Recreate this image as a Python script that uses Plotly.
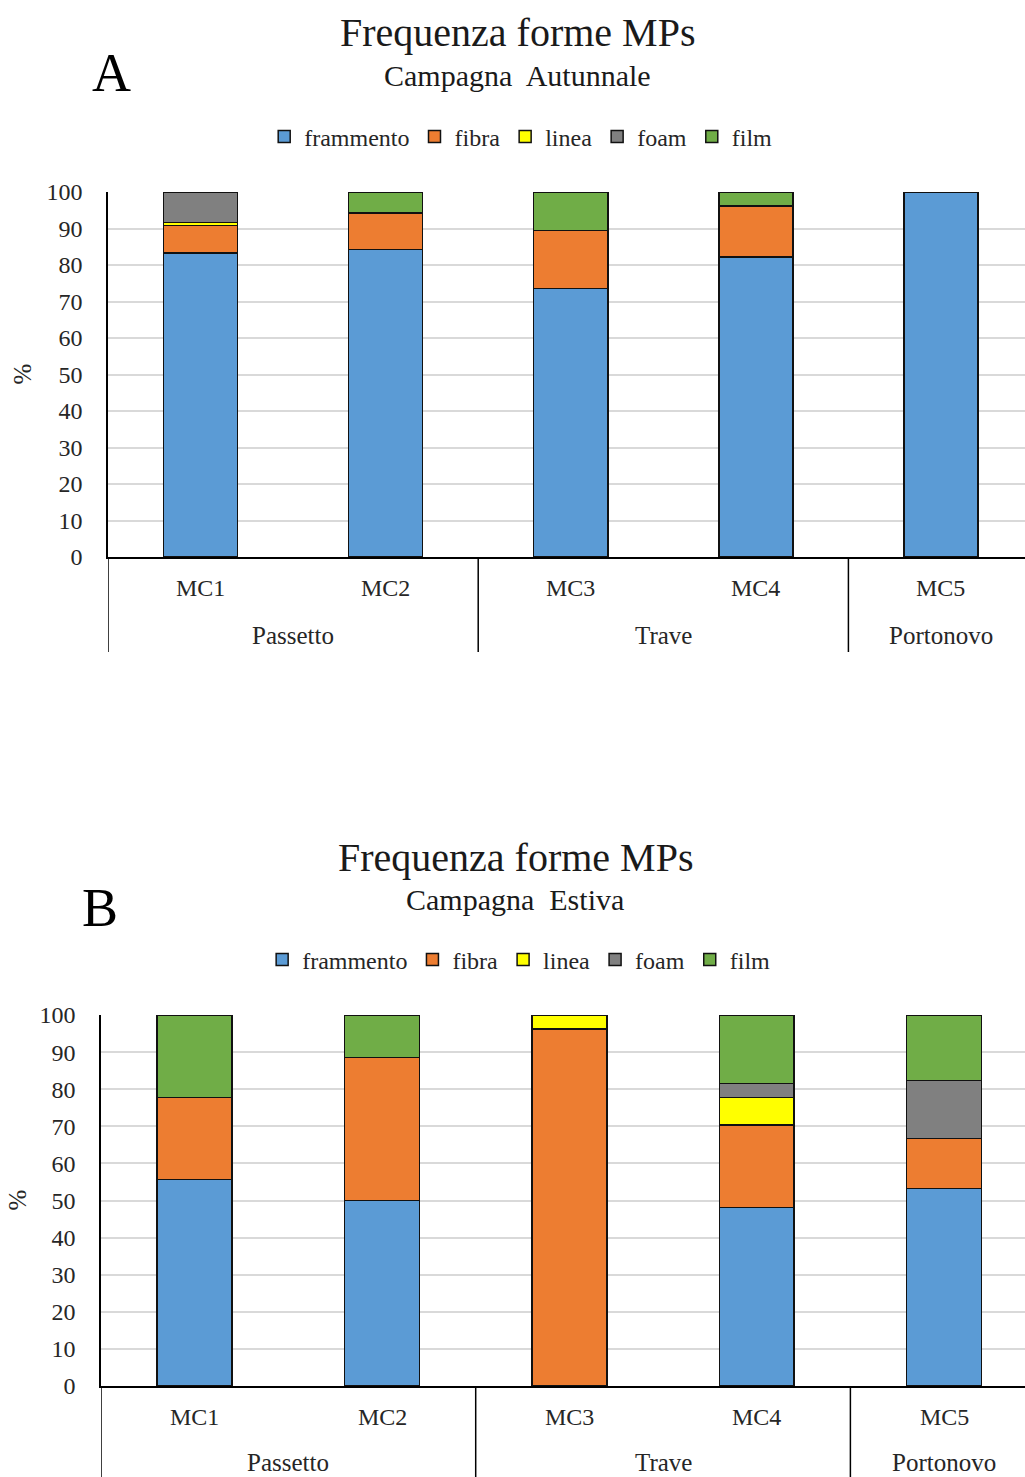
import plotly.graph_objects as go

W, H = 1025, 1477
FONT = "Liberation Serif"

categories = ["MC1", "MC2", "MC3", "MC4", "MC5"]
groups = ["Passetto", "Trave", "Portonovo"]
group_centers = [0.5, 2.5, 4.0]
group_dividers = [-0.5, 1.5, 3.5]
series_names = ["frammento", "fibra", "linea", "foam", "film"]
series_colors = ["#5B9BD5", "#ED7D31", "#FFFF00", "#808080", "#70AD47"]

# Campagna Autunnale (%)
aut_frammento = [83.3, 84.2, 73.5, 82.2, 100.0]
aut_fibra = [7.5, 10.0, 15.9, 13.9, 0.0]
aut_linea = [0.8, 0.0, 0.0, 0.0, 0.0]
aut_foam = [8.4, 0.0, 0.0, 0.0, 0.0]
aut_film = [0.0, 5.8, 10.6, 3.9, 0.0]

# Campagna Estiva (%)
est_frammento = [55.6, 50.0, 0.0, 48.1, 53.3]
est_fibra = [22.2, 38.5, 96.2, 22.3, 13.4]
est_linea = [0.0, 0.0, 3.8, 7.4, 0.0]
est_foam = [0.0, 0.0, 0.0, 3.7, 15.7]
est_film = [22.2, 11.5, 0.0, 18.5, 17.6]

y_ticks = list(range(0, 101, 10))


def py(px):
    """Convert a pixel row (from the top) to paper y."""
    return 1 - px / H


def px_x(px):
    return px / W


# The category axis runs past the right edge of the figure, so the
# visible x range stops short of the last category boundary.
panels = [
    dict(series=[aut_frammento, aut_fibra, aut_linea, aut_foam, aut_film],
         xaxis="x", yaxis="y", legend="legend", x_end=4.454,
         left=108, top=192, bottom=557, sub="Campagna  Autunnale", letter="A",
         title_y=33, sub_y=75, letter_x=111, letter_y=73, legend_y=137,
         mc_y=588, grp_y=635, div_end=652, pct_x=22, title_x=517),
    dict(series=[est_frammento, est_fibra, est_linea, est_foam, est_film],
         xaxis="x2", yaxis="y2", legend="legend2", x_end=4.432,
         left=101, top=1015, bottom=1386, sub="Campagna  Estiva", letter="B",
         title_y=857, sub_y=899, letter_x=100, letter_y=908, legend_y=960,
         mc_y=1417, grp_y=1462, div_end=1477, pct_x=17, title_x=515),
]

fig = go.Figure()
annotations = []
shapes = []

for p in panels:
    for name, color, vals in zip(series_names, series_colors, p["series"]):
        fig.add_trace(go.Bar(
            x=categories, y=vals, name=name, xaxis=p["xaxis"], yaxis=p["yaxis"],
            legend=p["legend"],
            marker=dict(color=color, line=dict(color="#111111", width=1.5)),
        ))
    xref = p["xaxis"]
    # category labels
    for i, c in enumerate(categories):
        annotations.append(dict(x=i, y=py(p["mc_y"]), xref=xref, yref="paper",
                                text=c, showarrow=False, xanchor="center", yanchor="middle",
                                font=dict(family=FONT, size=24, color="#262626")))
    # group labels
    for g, gc in zip(groups, group_centers):
        annotations.append(dict(x=gc, y=py(p["grp_y"]), xref=xref, yref="paper",
                                text=g, showarrow=False, xanchor="center", yanchor="middle",
                                font=dict(family=FONT, size=25, color="#262626")))
    # group dividers under the axis
    for d in group_dividers:
        shapes.append(dict(type="line", xref=xref, yref="paper",
                           x0=d, x1=d, y0=py(p["bottom"]), y1=py(p["div_end"]),
                           line=dict(color="#000000", width=1.5)))
    # titles and panel letter
    annotations.append(dict(x=px_x(p["title_x"]), y=py(p["title_y"]), xref="paper", yref="paper",
                            text="Frequenza forme MPs", showarrow=False,
                            xanchor="center", yanchor="middle",
                            font=dict(family=FONT, size=40, color="#1a1a1a")))
    annotations.append(dict(x=px_x(p["title_x"]), y=py(p["sub_y"]), xref="paper", yref="paper",
                            text=p["sub"], showarrow=False,
                            xanchor="center", yanchor="middle",
                            font=dict(family=FONT, size=30, color="#1a1a1a")))
    annotations.append(dict(x=px_x(p["letter_x"]), y=py(p["letter_y"]), xref="paper", yref="paper",
                            text=p["letter"], showarrow=False,
                            xanchor="center", yanchor="middle",
                            font=dict(family=FONT, size=54, color="#000000")))
    annotations.append(dict(x=px_x(p["pct_x"]), y=py((p["top"] + p["bottom"]) / 2),
                            xref="paper", yref="paper", text="%", textangle=-90,
                            showarrow=False, xanchor="center", yanchor="middle",
                            font=dict(family=FONT, size=25, color="#262626")))

xaxis_common = dict(
    type="category", categoryorder="array", categoryarray=categories,
    showticklabels=False, ticks="",
    showline=True, linecolor="#000000", linewidth=1.5, showgrid=False, zeroline=False,
)
yaxis_common = dict(
    range=[0, 100], tickvals=y_ticks, showgrid=True, gridcolor="#d9d9d9", gridwidth=1.5,
    showline=True, linecolor="#000000", linewidth=1.5, zeroline=False, ticks="",
    ticklabelstandoff=19,
    tickfont=dict(family=FONT, size=24, color="#262626"),
)

legend_common = dict(
    orientation="h", xanchor="center", yanchor="middle",
    font=dict(family=FONT, size=24, color="#262626"),
    bgcolor="rgba(0,0,0,0)", itemwidth=30, traceorder="normal",
)

p1, p2 = panels
fig.update_layout(
    width=W, height=H, margin=dict(l=0, r=0, t=0, b=0, autoexpand=False),
    paper_bgcolor="white", plot_bgcolor="white",
    barmode="stack", bargap=0.6,
    xaxis=dict(domain=[px_x(p1["left"]), 1.0], anchor="y",
               range=[-0.5, p1["x_end"]], **xaxis_common),
    yaxis=dict(domain=[py(p1["bottom"]), py(p1["top"])], anchor="x", **yaxis_common),
    xaxis2=dict(domain=[px_x(p2["left"]), 1.0], anchor="y2",
                range=[-0.5, p2["x_end"]], **xaxis_common),
    yaxis2=dict(domain=[py(p2["bottom"]), py(p2["top"])], anchor="x2", **yaxis_common),
    legend=dict(x=0.508, y=py(p1["legend_y"]), **legend_common),
    legend2=dict(x=0.506, y=py(p2["legend_y"]), **legend_common),
    annotations=annotations, shapes=shapes,
    showlegend=True,
)

fig.write_html("out.html")
